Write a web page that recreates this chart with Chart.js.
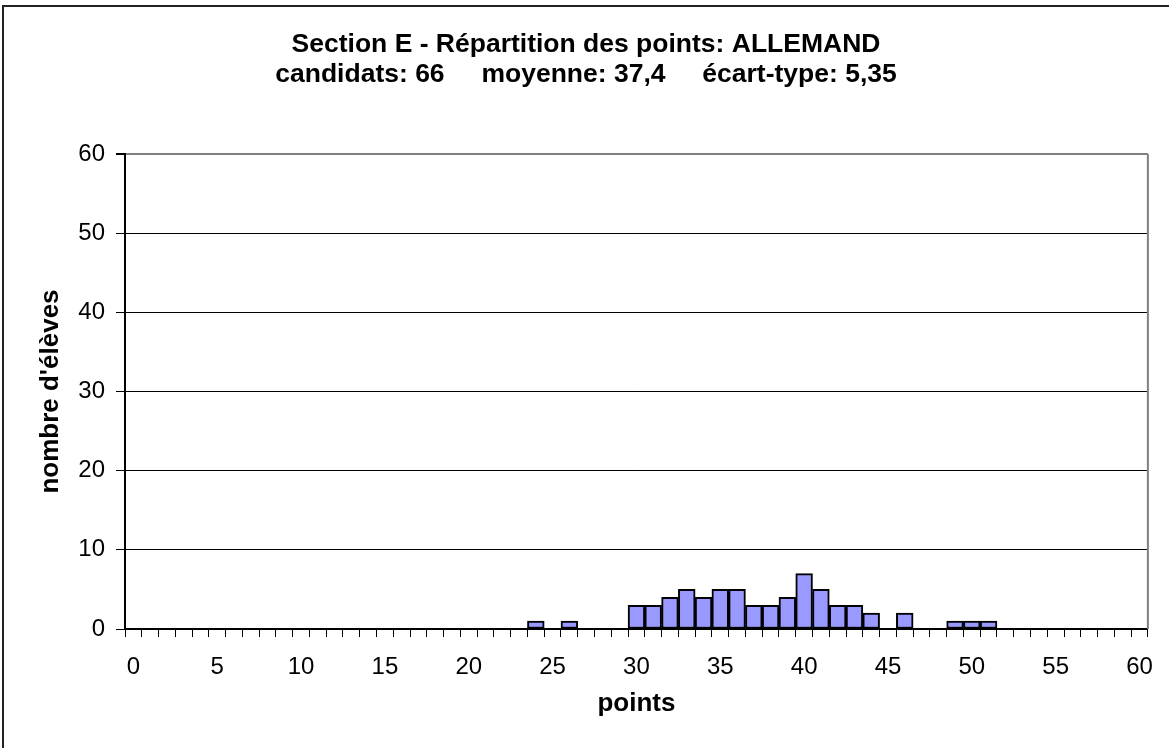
<!DOCTYPE html>
<html>
<head>
<meta charset="utf-8">
<script src="https://cdn.jsdelivr.net/npm/chart.js@4"></script>
<style>
  body { margin: 0; background: #fff; }
  #canvas { display: block; }
</style>
</head>
<body>
<canvas id="canvas" width="1169" height="748"></canvas>
<script>
// categories: points from 0 to 60
let points = [
    "0", "1", "2", "3", "4", "5", "6", "7", "8", "9",
    "10", "11", "12", "13", "14", "15", "16", "17", "18", "19",
    "20", "21", "22", "23", "24", "25", "26", "27", "28", "29",
    "30", "31", "32", "33", "34", "35", "36", "37", "38", "39",
    "40", "41", "42", "43", "44", "45", "46", "47", "48", "49",
    "50", "51", "52", "53", "54", "55", "56", "57", "58", "59",
    "60"
];
// number of pupils per score
let eleves = [
    0, 0, 0, 0, 0, 0, 0, 0, 0, 0,
    0, 0, 0, 0, 0, 0, 0, 0, 0, 0,
    0, 0, 0, 0, 1, 0, 1, 0, 0, 0,
    3, 3, 4, 5, 4, 5, 5, 3, 3, 4,
    7, 5, 3, 3, 2, 0, 2, 0, 0, 1,
    1, 1, 0, 0, 0, 0, 0, 0, 0, 0,
    0
];
let xLabels = ["0", "5", "10", "15", "20", "25", "30", "35", "40", "45", "50", "55", "60"];
let yTicks = [0, 10, 20, 30, 40, 50, 60];
let titleLines = [
    "Section E - Répartition des points: ALLEMAND",
    "candidats: 66\u00a0\u00a0\u00a0\u00a0\u00a0moyenne: 37,4\u00a0\u00a0\u00a0\u00a0\u00a0écart-type: 5,35"
];

let font = "'Liberation Sans', Arial, sans-serif";

// white background, outer frame and grey right edge of the plot
let frame = {
    id: "frame",
    beforeDraw(chart) {
        let c = chart.ctx;
        c.save();
        c.fillStyle = "#fff";
        c.fillRect(0, 0, chart.width, chart.height);
        c.strokeStyle = "#222";
        c.lineWidth = 2;
        c.beginPath();
        c.moveTo(3, chart.height);
        c.lineTo(3, 6);
        c.lineTo(chart.width, 6);
        c.stroke();
        c.restore();
    },
    beforeDatasetsDraw(chart) {
        let a = chart.chartArea;
        let c = chart.ctx;
        c.save();
        c.strokeStyle = "#808080";
        c.lineWidth = 2;
        c.beginPath();
        c.moveTo(a.right, a.top);
        c.lineTo(a.right, a.bottom);
        c.stroke();
        c.restore();
    }
};

Chart.defaults.font.family = font;
Chart.defaults.color = "#000";

let chart = new Chart(document.getElementById("canvas"), {
    type: "bar",
    data: {
        labels: points,
        datasets: [{
            data: eleves,
            backgroundColor: "#9999ff",
            borderColor: "#000",
            borderWidth: 2,
            borderSkipped: false,
            barPercentage: 1,
            categoryPercentage: 1
        }]
    },
    options: {
        responsive: false,
        animation: false,
        layout: {
            padding: { left: 21, right: 18, top: 0, bottom: 0 }
        },
        plugins: {
            legend: { display: false },
            tooltip: { enabled: false },
            title: {
                display: true,
                text: titleLines,
                color: "#000",
                font: { size: 26.5, weight: "bold", lineHeight: 30 / 26.5 },
                padding: { top: 30, bottom: 64 }
            }
        },
        scales: {
            x: {
                offset: true,
                grid: {
                    offset: true,
                    drawOnChartArea: false,
                    color: "#000",
                    tickLength: 8
                },
                border: { color: "#000", width: 2 },
                ticks: {
                    autoSkip: false,
                    maxRotation: 0,
                    minRotation: 0,
                    padding: 16,
                    font: { size: 24 },
                    callback: function (value) {
                        let lab = this.getLabelForValue(value);
                        return xLabels.includes(lab) ? lab : "";
                    }
                },
                title: {
                    display: true,
                    text: "points",
                    font: { size: 26, weight: "bold" },
                    padding: { top: 0, bottom: 29 }
                },
                afterFit(scale) { scale.height = 119; }
            },
            y: {
                min: 0,
                max: 60,
                afterBuildTicks(scale) {
                    scale.ticks = yTicks.map(v => ({ value: v }));
                },
                grid: {
                    color: ctx => (ctx.tick && ctx.tick.value === 60 ? "#808080" : "#000"),
                    lineWidth: ctx => (ctx.tick && ctx.tick.value === 60 ? 2 : 1),
                    tickColor: "#000",
                    tickLength: 9
                },
                border: { color: "#000", width: 2 },
                ticks: {
                    padding: 11,
                    font: { size: 24 }
                },
                title: {
                    display: true,
                    text: "nombre d'élèves",
                    font: { size: 26, weight: "bold" },
                    padding: { top: 14, bottom: 0 }
                },
                afterFit(scale) { scale.width = 104; }
            }
        }
    },
    plugins: [frame]
});
</script>
</body>
</html>
